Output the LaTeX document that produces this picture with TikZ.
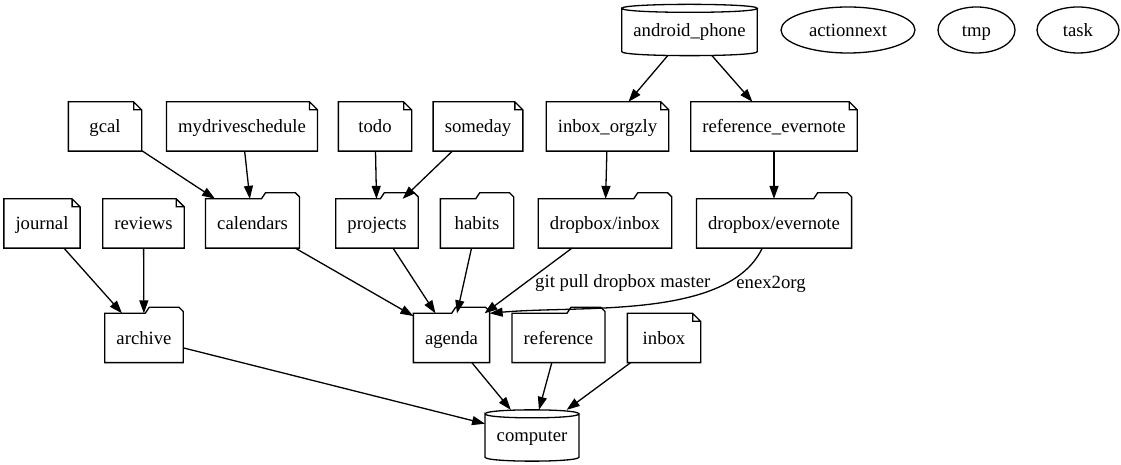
\documentclass[tikz,border=0pt]{standalone}
\usepackage{fontspec}
\setmainfont{Liberation Serif}
\usetikzlibrary{arrows.meta,shapes.geometric}

\begin{document}
\begin{tikzpicture}[x=1pt,y=1pt,line width=1.3pt,
    >={Triangle[length=13pt,width=9pt]},
    every node/.style={font=\fontsize{18.7}{22}\selectfont,text height=17pt,text depth=4pt},
    base node/.style={rectangle,minimum width=72pt,minimum height=48pt,inner xsep=11pt,inner ysep=0pt},
    note node/.style={base node,
      append after command={\pgfextra{
        \draw[-] (\tikzlastnode.north west) -- ([xshift=-8pt]\tikzlastnode.north east)
          -- ([yshift=-8pt]\tikzlastnode.north east) -- (\tikzlastnode.south east)
          -- (\tikzlastnode.south west) -- cycle
          ([xshift=-8pt]\tikzlastnode.north east) |- ([yshift=-8pt]\tikzlastnode.north east);}}},
    folder node/.style={base node,
      append after command={\pgfextra{
        \draw[-] (\tikzlastnode.south west) -- (\tikzlastnode.north west)
          -- ([xshift=-38pt]\tikzlastnode.north east)
          -- ([xshift=-34pt,yshift=6pt]\tikzlastnode.north east)
          -- ([xshift=-4pt,yshift=6pt]\tikzlastnode.north east)
          -- ([yshift=2pt]\tikzlastnode.north east)
          -- (\tikzlastnode.south east) -- cycle;}}},
    cyl node/.style={base node,minimum height=50pt,
      append after command={\pgfextra{
        \draw[-] ([yshift=-4pt]\tikzlastnode.north west)
          .. controls ([yshift=1.33pt]\tikzlastnode.north west) and ([yshift=1.33pt]\tikzlastnode.north east) .. ([yshift=-4pt]\tikzlastnode.north east)
          .. controls ([yshift=-9.33pt]\tikzlastnode.north east) and ([yshift=-9.33pt]\tikzlastnode.north west) .. ([yshift=-4pt]\tikzlastnode.north west)
          -- ([yshift=4pt]\tikzlastnode.south west)
          .. controls ([yshift=-1.33pt]\tikzlastnode.south west) and ([yshift=-1.33pt]\tikzlastnode.south east) .. ([yshift=4pt]\tikzlastnode.south east)
          -- ([yshift=-4pt]\tikzlastnode.north east);}}},
    oval node/.style={ellipse,draw,minimum height=46pt,inner sep=0pt}]

    \useasboundingbox (0,0) rectangle (1121,465);

    \node[cyl node] (phone) at (689.5,435) {android\_phone};
    \node[oval node,minimum width=134pt] (actionnext) at (848,435) {actionnext};
    \node[oval node,minimum width=77pt] (tmp) at (976.5,435) {tmp};
    \node[oval node,minimum width=82pt] (task) at (1078,435) {task};

    \node[note node] (gcal) at (105,338.5) {gcal};
    \node[note node] (drive) at (242,338.5) {mydriveschedule};
    \node[note node] (todo) at (375,338.5) {todo};
    \node[note node] (someday) at (478,338.5) {someday};
    \node[note node] (orgzly) at (607.5,338.5) {inbox\_orgzly};
    \node[note node] (refev) at (774,338.5) {reference\_evernote};

    \node[note node] (journal) at (42,241.5) {journal};
    \node[note node] (reviews) at (143.5,241.5) {reviews};
    \node[folder node] (calendars) at (252.5,241.5) {calendars};
    \node[folder node] (projects) at (377,241.5) {projects};
    \node[folder node] (habits) at (477,241.5) {habits};
    \node[folder node] (dbinbox) at (605,241.5) {dropbox/inbox};
    \node[folder node] (dbev) at (774,241.5) {dropbox/evernote};

    \node[folder node] (archive) at (144,127) {archive};
    \node[folder node] (agenda) at (451.5,127) {agenda};
    \node[folder node] (reference) at (558.5,127) {reference};
    \node[note node] (inbox) at (664,127) {inbox};

    \node[cyl node] (computer) at (532,29.5) {computer};

    \path[->]
      (phone) edge (orgzly)
              edge (refev)
      (gcal) edge (calendars)
      (drive) edge (calendars)
      (todo) edge (projects)
      (someday) edge (projects)
      (orgzly) edge (dbinbox)
      (refev) edge (dbev)
      (journal) edge (archive)
      (reviews) edge (archive)
      (calendars) edge (agenda)
      (projects) edge (agenda)
      (habits) edge (agenda)
      (dbinbox) edge node[midway,right=3pt] (gitlbl) {git pull dropbox master} (agenda)
      (dbev) edge[to path={.. controls (728,145) and (580,160) .. (\tikztotarget) \tikztonodes}]
             node[pos=0.2,right=3pt] (enexlbl) {enex2org} (agenda.north east)
      (archive) edge (computer)
      (agenda) edge (computer)
      (reference) edge (computer)
      (inbox) edge (computer);
\end{tikzpicture}
\end{document}
